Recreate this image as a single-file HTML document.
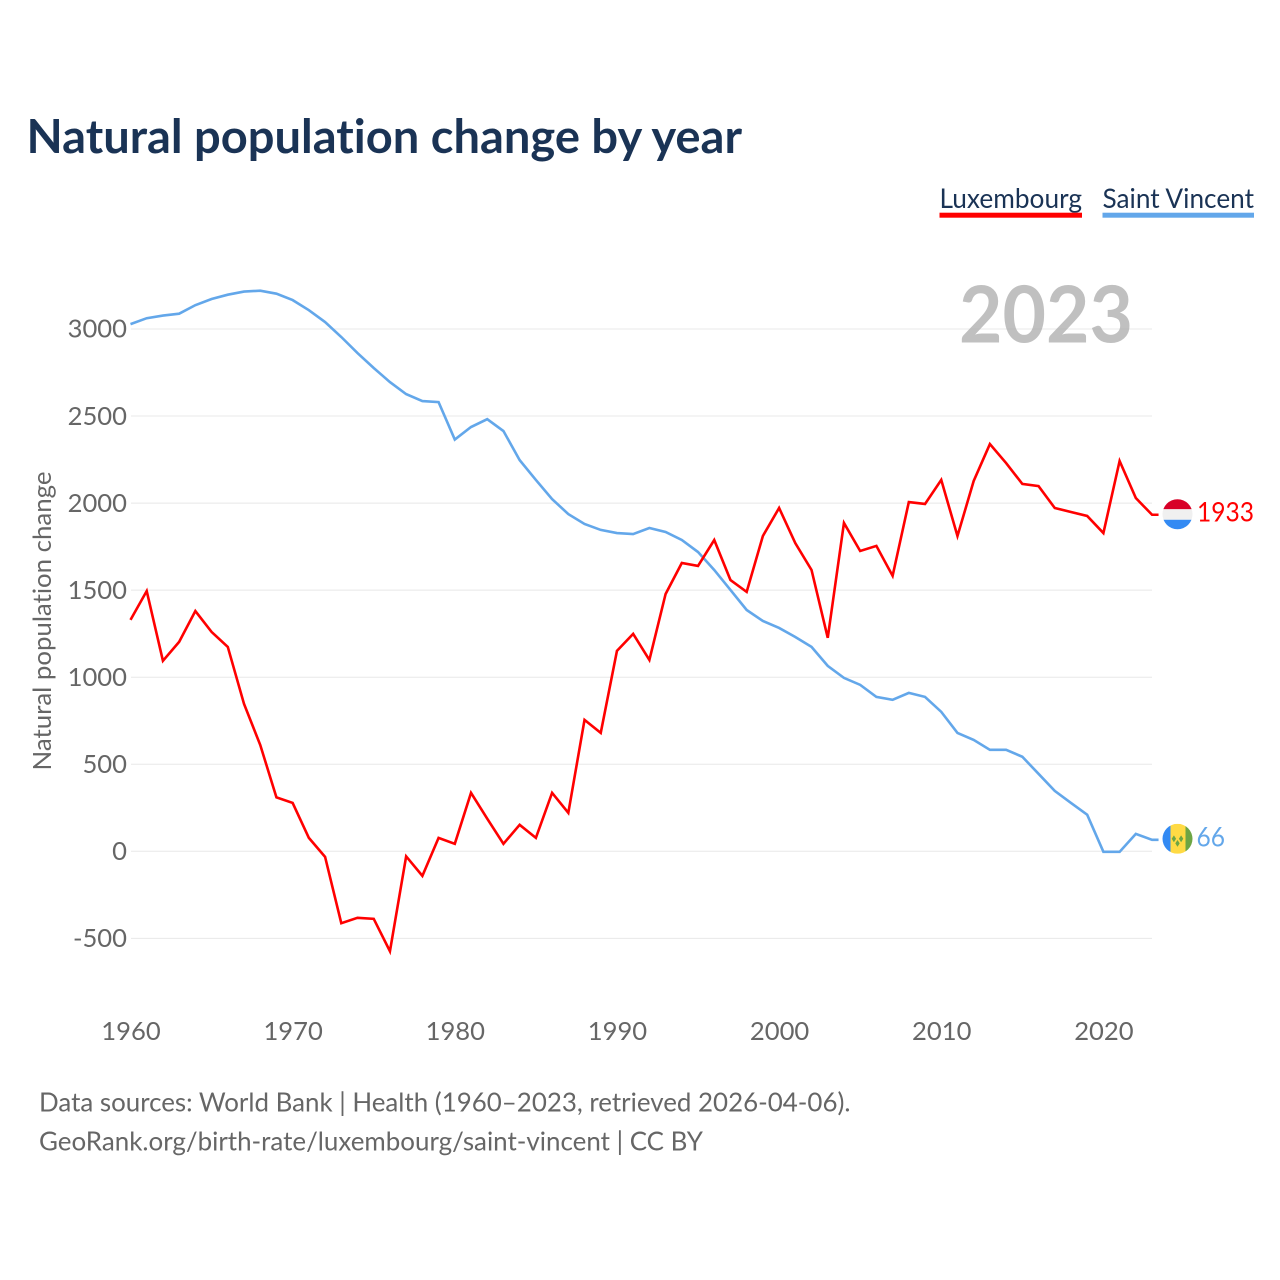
<!DOCTYPE html>
<html lang="en">
<head>
<meta charset="utf-8">
<title>Natural population change by year</title>
<style>
html,body{margin:0;padding:0;background:#fff;}
svg{display:block;}
text{font-family:"Lato","Carlito","Liberation Sans",sans-serif;font-variant-ligatures:none;}
</style>
</head>
<body>
<svg id="chart" xmlns="http://www.w3.org/2000/svg" width="1280" height="1280" viewBox="0 0 1280 1280">
  <rect x="0" y="0" width="1280" height="1280" fill="#ffffff"/>
  <text x="26.5" y="153" font-size="46.5" font-weight="700" fill="#1a3355" textLength="715.5" lengthAdjust="spacingAndGlyphs">Natural population change by year</text>

  <g>
    <text x="939.5" y="208" font-size="27.5" fill="#1a3355" textLength="142.5" lengthAdjust="spacingAndGlyphs">Luxembourg</text>
    <rect x="939.5" y="212.7" width="142.5" height="5" fill="#ff0000"/>
  </g>
  <g>
    <text x="1102.5" y="208" font-size="27.5" fill="#1a3355" textLength="151.5" lengthAdjust="spacingAndGlyphs">Saint Vincent</text>
    <rect x="1102.5" y="212.7" width="151.5" height="5" fill="#63a7ea"/>
  </g>

  <g id="grid"></g>
  <g id="yticks"></g>
  <g id="xticks"></g>

  <text x="1046" y="342.5" font-size="79" font-weight="700" fill="#a8a8a8" fill-opacity="0.72" text-anchor="middle" textLength="174" lengthAdjust="spacingAndGlyphs">2023</text>
  <text transform="translate(51,621) rotate(-90)" font-size="25.5" fill="#666666" text-anchor="middle" textLength="299" lengthAdjust="spacingAndGlyphs">Natural population change</text>

  <g id="series"></g>

  <defs>
    <clipPath id="flag-clip-lux"><circle id="lux-clip-circle" cx="1177.5" cy="514" r="15"/></clipPath>
    <clipPath id="flag-clip-svg"><circle id="svg-clip-circle" cx="1177.5" cy="839" r="15"/></clipPath>
  </defs>
  <g id="flag-lux" clip-path="url(#flag-clip-lux)"></g>
  <g id="flag-svg" clip-path="url(#flag-clip-svg)"></g>
  <text id="end-label-lux" x="1197" font-size="27" fill="#ff0000" textLength="57" lengthAdjust="spacingAndGlyphs"></text>
  <text id="end-label-svg" x="1196.5" font-size="27" fill="#63a7ea" textLength="28.5" lengthAdjust="spacingAndGlyphs"></text>

  <text x="39" y="1111.6" font-size="26.5" fill="#666666" textLength="811.5" lengthAdjust="spacingAndGlyphs">Data sources: World Bank | Health (1960–2023, retrieved 2026-04-06).</text>
  <text x="39" y="1150.4" font-size="26.5" fill="#666666" textLength="664" lengthAdjust="spacingAndGlyphs">GeoRank.org/birth-rate/luxembourg/saint-vincent | CC BY</text>
</svg>

<script>
const firstYear = 1960;
const xTickYears = [1960, 1970, 1980, 1990, 2000, 2010, 2020];
const yTickValues = [-500, 0, 500, 1000, 1500, 2000, 2500, 3000];
const luxembourgValues = [
  1329, 1495, 1094, 1203, 1380, 1260, 1174, 847, 611, 310,
  278, 77, -32, -413, -382, -388, -574, -29, -141, 77,
  43, 336, 187, 43, 152, 77, 336, 221, 755, 680,
  1151, 1249, 1099, 1478, 1656, 1639, 1788, 1558, 1490, 1811,
  1972, 1770, 1616, 1226, 1886, 1725, 1754, 1582, 2006, 1995,
  2133, 1811, 2127, 2339, 2230, 2110, 2098, 1972, 1949, 1926,
  1828, 2242, 2029, 1933
];
const saintVincentValues = [
  3028, 3062, 3077, 3088, 3137, 3172, 3197, 3215, 3220, 3203,
  3166, 3108, 3040, 2954, 2862, 2776, 2695, 2626, 2586, 2580,
  2365, 2437, 2482, 2414, 2247, 2133, 2023, 1937, 1880, 1846,
  1828, 1822, 1857, 1834, 1788, 1719, 1616, 1501, 1386, 1323,
  1283, 1231, 1174, 1065, 996, 956, 887, 870, 910, 887,
  801, 680, 640, 583, 583, 543, 445, 347, 278, 210,
  -3, -3, 100, 66
];

const SVGNS = 'http://www.w3.org/2000/svg';
function xScale(year) { return 130.5 + (year - firstYear) * 16.215; }
function labelX(year) { return 131 + (year - firstYear) * 16.215; }
function yScale(value) { return 851.3 - value * 0.1741; }
function make(tag, attrs, parent) {
  const el = document.createElementNS(SVGNS, tag);
  Object.keys(attrs).forEach(function (k) { el.setAttribute(k, attrs[k]); });
  parent.appendChild(el);
  return el;
}

const gridGroup = document.getElementById('grid');
const yTickGroup = document.getElementById('yticks');
const xTickGroup = document.getElementById('xticks');
const seriesGroup = document.getElementById('series');

yTickValues.forEach(function (v) {
  const y = yScale(v);
  const line = make('line', { x1: 131, x2: 1152, y1: y, y2: y, stroke: '#e8e8e8', 'stroke-width': 1 }, gridGroup);
  
  
  const label = make('text', { x: 127, y: y + 8.7, 'font-size': 25.6, fill: '#666666', 'text-anchor': 'end' }, yTickGroup);
  
  
  label.textContent = String(v);
});

xTickYears.forEach(function (yr) {
  const label = make('text', { x: labelX(yr), y: 1040, 'font-size': 25.6, fill: '#666666', 'text-anchor': 'middle' }, xTickGroup);
  
  
  label.textContent = String(yr);
});

function drawSeries(values, color) {
  const pts = values.map(function (v, i) {
    return xScale(firstYear + i).toFixed(2) + ',' + yScale(v).toFixed(2);
  });
  const lastIndex = values.length - 1;
  pts.push((xScale(firstYear + lastIndex) + 6.5).toFixed(2) + ',' + yScale(values[lastIndex]).toFixed(2));
  return make('polyline', { points: pts.join(' '), fill: 'none', stroke: color, 'stroke-width': 2.6, 'stroke-linejoin': 'miter' }, seriesGroup);
}

const saintVincentLine = drawSeries(saintVincentValues, '#63a7ea');


const luxembourgLine = drawSeries(luxembourgValues, '#ff0000');



const luxLast = luxembourgValues[luxembourgValues.length - 1];
const svLast = saintVincentValues[saintVincentValues.length - 1];
const luxY = yScale(luxLast);
const svY = yScale(svLast);
const flagX = 1177.5;
const luxFlagY = luxY - 0.5;
const svFlagY = svY - 1;

document.getElementById('lux-clip-circle').setAttribute('cy', luxFlagY);
document.getElementById('svg-clip-circle').setAttribute('cy', svFlagY);

const flagLux = document.getElementById('flag-lux');
make('rect', { x: flagX - 15, y: luxFlagY - 15.5, width: 30, height: 10.5, fill: '#d80027' }, flagLux);
make('rect', { x: flagX - 15, y: luxFlagY - 5, width: 30, height: 10.5, fill: '#f0f0f0' }, flagLux);
make('rect', { x: flagX - 15, y: luxFlagY + 5.5, width: 30, height: 10, fill: '#338af3' }, flagLux);

const flagSv = document.getElementById('flag-svg');
make('rect', { x: flagX - 15, y: svFlagY - 15, width: 8, height: 30, fill: '#338af3' }, flagSv);
make('rect', { x: flagX - 7, y: svFlagY - 15, width: 15, height: 30, fill: '#ffda44' }, flagSv);
make('rect', { x: flagX + 8, y: svFlagY - 15, width: 7, height: 30, fill: '#6da544' }, flagSv);
[[-3.6, 0], [3.6, 0], [0, 4.6]].forEach(function (d) {
  const cx = flagX + d[0];
  const cy = svFlagY + d[1];
  make('polygon', { points: cx + ',' + (cy - 3.4) + ' ' + (cx + 2.2) + ',' + cy + ' ' + cx + ',' + (cy + 3.4) + ' ' + (cx - 2.2) + ',' + cy, fill: '#6da544' }, flagSv);
});

const luxLabel = document.getElementById('end-label-lux');
luxLabel.setAttribute('y', luxY + 6.5);
luxLabel.textContent = String(luxLast);
const svLabel = document.getElementById('end-label-svg');
svLabel.setAttribute('y', svY + 6.5);
svLabel.textContent = String(svLast);
</script>
</body>
</html>
